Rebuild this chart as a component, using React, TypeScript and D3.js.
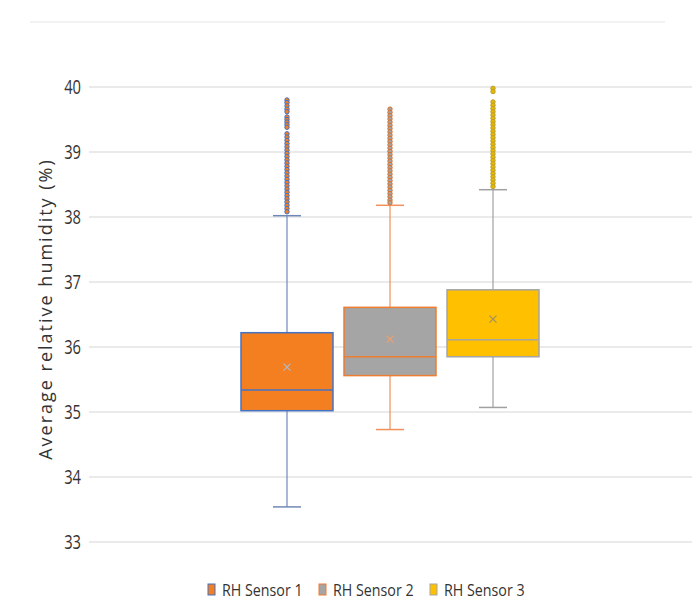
import React from "react";
import * as d3 from "d3";

const seriesNames = ["RH Sensor 1", "RH Sensor 2", "RH Sensor 3"];
const lowerWhisker = [33.54, 34.73, 35.07];
const q1 = [35.02, 35.56, 35.85];
const median = [35.34, 35.85, 36.11];
const q3 = [36.22, 36.61, 36.88];
const upperWhisker = [38.02, 38.18, 38.42];
const means = [35.69, 36.12, 36.43];

const outliers1 = [39.8, 39.76, 39.71, 39.66, 39.62, 39.54, 39.5, 39.46, 39.42, 39.38,
  39.28, 39.23, 39.18, 39.13, 39.08, 39.03, 38.98, 38.93, 38.88, 38.83, 38.78, 38.73,
  38.68, 38.63, 38.58, 38.53, 38.48, 38.43, 38.38, 38.33, 38.28, 38.23, 38.18, 38.13, 38.08];
const outliers2 = [39.66, 39.61, 39.56, 39.51, 39.46, 39.41, 39.36, 39.31, 39.26, 39.21,
  39.16, 39.11, 39.06, 39.01, 38.96, 38.91, 38.86, 38.81, 38.76, 38.71, 38.66, 38.61,
  38.56, 38.51, 38.46, 38.41, 38.36, 38.31, 38.26, 38.22];
const outliers3 = [39.98, 39.93, 39.77, 39.72, 39.67, 39.62, 39.57, 39.52, 39.47, 39.42,
  39.37, 39.32, 39.27, 39.22, 39.17, 39.12, 39.07, 39.02, 38.97, 38.92, 38.87, 38.82,
  38.77, 38.72, 38.67, 38.62, 38.57, 38.52, 38.47];
const outlierLists = [outliers1, outliers2, outliers3];

const yTicks = [33, 34, 35, 36, 37, 38, 39, 40];
const topGrid = 41;

const fills = ["#F47F20", "#A5A5A5", "#FFC000"];
const strokes = ["#4472C4", "#ED7D31", "#A5A5A5"];
const whiskerColors = ["#7088B8", "#F0905A", "#A0A0A0"];
const outlierFill = ["#F47F20", "#A5A5A5", "#E8B800"];
const outlierStroke = ["#4472C4", "#D9702A", "#B8A030"];
const meanColors = ["#B0B8C8", "#F0A070", "#A09060"];

export default function App() {
  const W = 692, H = 616;
  const y = d3.scaleLinear().domain([33, 40]).range([542, 87]);
  const x = d3.scaleBand<string>().domain(seriesNames).range([241, 539]).paddingInner(0.107);
  const bw = x.bandwidth();
  const cap = 28;
  const font = "'Open Sans', sans-serif";

  return (
    <svg width={W} height={H} style={{ position: "absolute", left: 0, top: 0, background: "#fff" }}>
      <line x1={30} x2={665} y1={y(topGrid)} y2={y(topGrid)} stroke="#EEEEEE" strokeWidth={1.5} />
      {yTicks.map((t) => (
        <g key={t}>
          <line x1={89} x2={692} y1={y(t)} y2={y(t)} stroke="#E3E3E3" strokeWidth={1.5} />
          <text
            transform={`translate(81,${y(t)}) scale(0.92,1.2)`}
            dy="0.36em"
            textAnchor="end"
            fontFamily={font}
            fontSize={16}
            fill="#333"
          >
            {t}
          </text>
        </g>
      ))}
      <text
        transform={`translate(52,${309}) rotate(-90)`}
        textAnchor="middle"
        fontFamily={font}
        fontSize={18}
        letterSpacing={2}
        fill="#333"
      >
        Average relative humidity (%)
      </text>
      {seriesNames.map((s, i) => {
        const x0 = x(s)!;
        const cx = x0 + bw / 2;
        return (
          <g key={s}>
            <line x1={cx} x2={cx} y1={y(q3[i])} y2={y(upperWhisker[i])} stroke={whiskerColors[i]} strokeWidth={1.2} />
            <line x1={cx} x2={cx} y1={y(q1[i])} y2={y(lowerWhisker[i])} stroke={whiskerColors[i]} strokeWidth={1.2} />
            <line x1={cx - cap / 2} x2={cx + cap / 2} y1={y(upperWhisker[i])} y2={y(upperWhisker[i])} stroke={whiskerColors[i]} strokeWidth={1.5} />
            <line x1={cx - cap / 2} x2={cx + cap / 2} y1={y(lowerWhisker[i])} y2={y(lowerWhisker[i])} stroke={whiskerColors[i]} strokeWidth={1.5} />
            <rect x={x0} y={y(q3[i])} width={bw} height={y(q1[i]) - y(q3[i])} fill={fills[i]} stroke={strokes[i]} strokeWidth={1.5} />
            <line x1={x0} x2={x0 + bw} y1={y(median[i])} y2={y(median[i])} stroke={strokes[i]} strokeWidth={1.5} />
            <g stroke={meanColors[i]} strokeWidth={1.2}>
              <line x1={cx - 3.5} x2={cx + 3.5} y1={y(means[i]) - 3.5} y2={y(means[i]) + 3.5} />
              <line x1={cx - 3.5} x2={cx + 3.5} y1={y(means[i]) + 3.5} y2={y(means[i]) - 3.5} />
            </g>
            {outlierLists[i].map((v, j) => (
              <circle key={j} cx={cx} cy={y(v)} r={2.2} fill={outlierFill[i]} stroke={outlierStroke[i]} strokeWidth={1} />
            ))}
          </g>
        );
      })}
      {seriesNames.map((s, i) => {
        const lx = 208 + i * 111;
        return (
          <g key={"lg" + s}>
            <rect x={lx} y={584} width={7} height={11} fill={fills[i]} stroke={strokes[i]} strokeWidth={1} />
            <text
              transform={`translate(${lx + 14},596) scale(0.95,1.1)`}
              fontFamily={font}
              fontSize={15}
              fill="#333"
            >
              {s}
            </text>
          </g>
        );
      })}
    </svg>
  );
}
